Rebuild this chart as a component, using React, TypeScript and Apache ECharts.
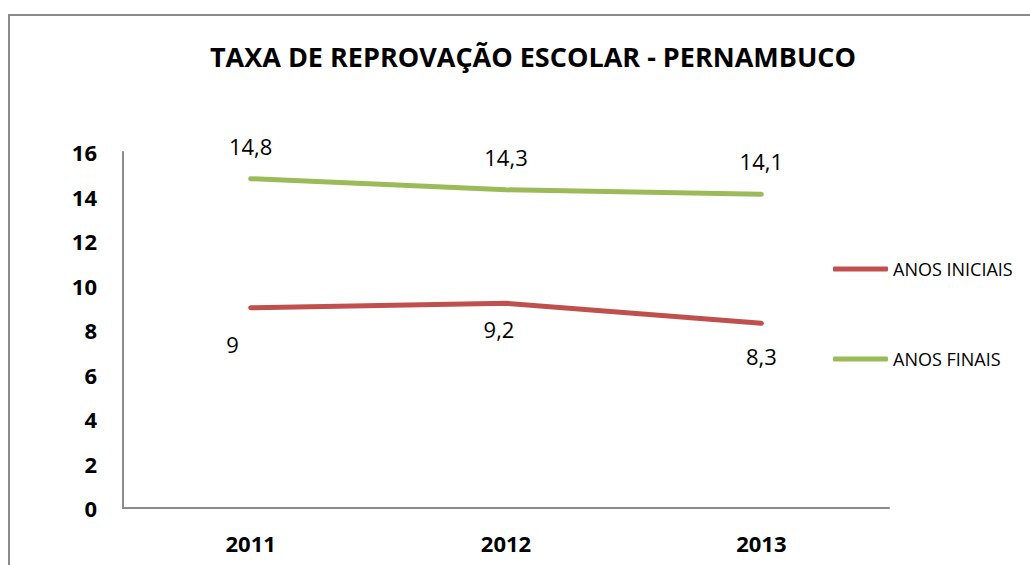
import React, { useEffect, useRef } from "react";
import * as echarts from "echarts";

const title = "TAXA DE REPROVAÇÃO ESCOLAR - PERNAMBUCO";
const years = ["2011", "2012", "2013"];
const anosIniciais = [9, 9.2, 8.3];
const anosFinais = [14.8, 14.3, 14.1];
const seriesNames = ["ANOS INICIAIS", "ANOS FINAIS"];

// label nudges for the red series (as in the reference)
const redLabelOffsets = [[-18, 0], [-7, -10], [0, -3]];

const fmt = (v: number) => String(v).replace(".", ",");

export default function App() {
  const ref = useRef<HTMLDivElement>(null);
  useEffect(() => {
    if (!ref.current) return;
    const chart = echarts.init(ref.current, null, { renderer: "svg" });
    const font = "'Open Sans', sans-serif";
    chart.setOption({
      animation: false,
      backgroundColor: "#ffffff",
      title: {
        text: title,
        left: 528,
        textAlign: "center",
        top: 38,
        textStyle: { fontFamily: font, fontWeight: "bold", fontSize: 27, color: "#000" },
      },
      graphic: [
        {
          type: "rect",
          shape: { x: 9, y: 15, width: 1100, height: 700 },
          style: { fill: "none", stroke: "#8a8a8a", lineWidth: 2 },
          silent: true,
        },
      ],
      legend: {
        orient: "vertical",
        left: 833,
        top: 258,
        padding: 0,
        itemWidth: 55,
        itemHeight: 5,
        itemGap: 68,
        icon: "roundRect",
        data: seriesNames,
        textStyle: { fontFamily: font, fontSize: 18, color: "#000", lineHeight: 22 },
      },
      grid: { left: 123, right: 141, top: 152, bottom: 57 },
      xAxis: {
        type: "category",
        data: years,
        boundaryGap: true,
        axisLine: { lineStyle: { color: "#8a8a8a", width: 2 } },
        axisTick: { show: false },
        axisLabel: { margin: 24, fontFamily: font, fontWeight: "bold", fontSize: 22, color: "#000" },
      },
      yAxis: {
        type: "value",
        min: 0,
        max: 16,
        interval: 2,
        axisLine: { show: true, lineStyle: { color: "#8a8a8a", width: 2 } },
        axisTick: { show: false },
        splitLine: { show: false },
        axisLabel: { margin: 26, fontFamily: font, fontWeight: "bold", fontSize: 22, color: "#000" },
      },
      series: [
        {
          name: seriesNames[0],
          type: "line",
          data: anosIniciais.map((v, i) => ({
            value: v,
            label: { offset: redLabelOffsets[i] },
          })),
          symbol: "circle",
          symbolSize: 0.1,
          showSymbol: true,
          color: "#C0504D",
          lineStyle: { width: 5, color: "#C0504D", cap: "round" },
          label: {
            show: true,
            position: "bottom",
            distance: 25,
            fontFamily: font,
            fontSize: 22,
            color: "#000",
            formatter: (p: any) => fmt(p.value),
          },
        },
        {
          name: seriesNames[1],
          type: "line",
          data: anosFinais,
          symbol: "circle",
          symbolSize: 0.1,
          showSymbol: true,
          color: "#9BBB59",
          lineStyle: { width: 5, color: "#9BBB59", cap: "round" },
          label: {
            show: true,
            position: "top",
            distance: 22,
            fontFamily: font,
            fontSize: 22,
            color: "#000",
            formatter: (p: any) => fmt(p.value),
          },
        },
      ],
    });
    return () => chart.dispose();
  }, []);
  return (
    <div
      ref={ref}
      style={{ position: "absolute", left: 0, top: 0, width: 1030, height: 565 }}
    />
  );
}
